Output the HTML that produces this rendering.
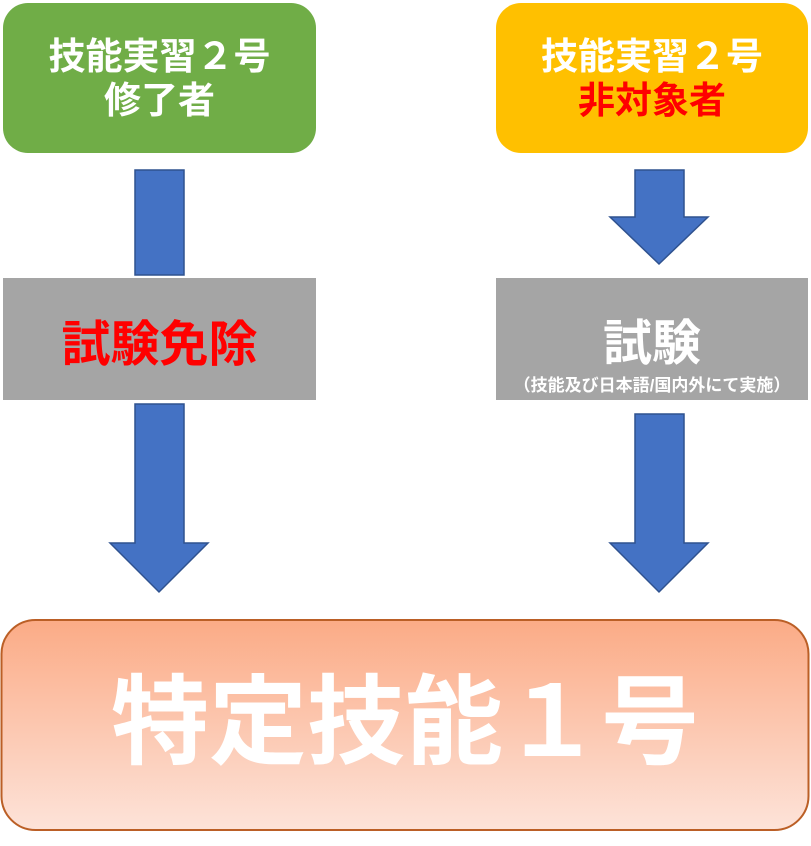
<!DOCTYPE html>
<html><head><meta charset="utf-8"><style>
html,body{margin:0;padding:0;background:#fff;}
svg{display:block;}
text{font-family:"Liberation Sans","Noto Sans CJK JP",sans-serif;font-weight:bold;}
</style></head><body>
<svg width="811" height="846" viewBox="0 0 811 846" xmlns="http://www.w3.org/2000/svg">
<defs>
<linearGradient id="g" x1="0" y1="0" x2="0" y2="1">
<stop offset="0" stop-color="#fbab86"/>
<stop offset="1" stop-color="#fde3d9"/>
</linearGradient>
</defs>
<rect x="3" y="3" width="313" height="150" rx="25" fill="#70ad47"/>
<rect x="496" y="3" width="312" height="150" rx="25" fill="#ffc000"/>
<text x="159.5" y="69" font-size="37" fill="#fff" text-anchor="middle">技能実習２号</text>
<text x="159.5" y="113" font-size="37" fill="#fff" text-anchor="middle">修了者</text>
<text x="652" y="69" font-size="37" fill="#fff" text-anchor="middle">技能実習２号</text>
<text x="652" y="113" font-size="37" fill="#ff0000" text-anchor="middle">非対象者</text>

<rect x="3" y="278" width="313" height="122" fill="#a5a5a5"/>
<rect x="496" y="278" width="312" height="122" fill="#a5a5a5"/>
<text x="159.5" y="361" font-size="49" fill="#ff0000" text-anchor="middle">試験免除</text>
<text x="652" y="360" font-size="49" fill="#fff" text-anchor="middle">試験</text>
<text x="652" y="391" font-size="17" fill="#fff" text-anchor="middle">（技能及び日本語/国内外にて実施）</text>

<g fill="#4472c4" stroke="#2f528f" stroke-width="1.5">
<rect x="135" y="170" width="49" height="105"/>
<polygon points="635,170 684,170 684,217 708,217 659,264 610,217 635,217"/>
<polygon points="135,404 184,404 184,543 208,543 159,592 110,543 135,543"/>
<polygon points="635,414 684,414 684,543 708,543 659,592 610,543 635,543"/>
</g>

<rect x="1.5" y="620" width="807" height="210" rx="34" fill="url(#g)" stroke="#bb5f26" stroke-width="2"/>
<text x="405" y="756" font-size="98" fill="#fff" text-anchor="middle">特定技能１号</text>
</svg>
</body></html>
